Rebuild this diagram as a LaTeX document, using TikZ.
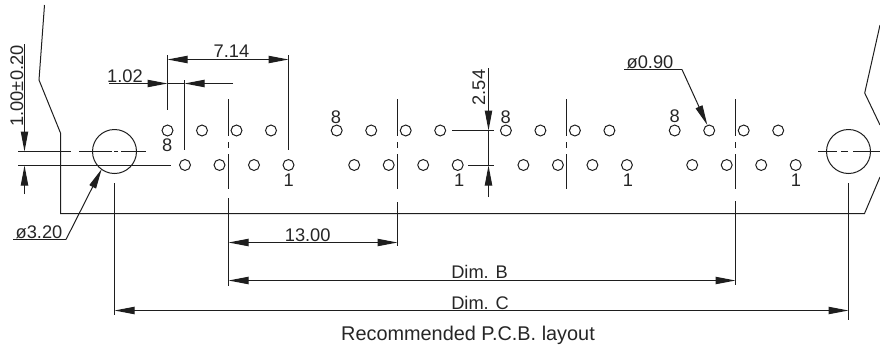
\documentclass[tikz,border=0pt]{standalone}
\usepackage{fontspec}
\setmainfont{Liberation Sans}
\usetikzlibrary{arrows.meta}
\definecolor{ink}{HTML}{1E1E1E}
\definecolor{txt}{HTML}{262626}
\tikzset{
  ln/.style={draw=ink,line width=0.75pt},
  dimtip/.style={-{Triangle[length=15pt,width=5.5pt,color=ink]}},
  lab/.style={inner sep=0pt,anchor=base,text=txt,font=\fontsize{13.7}{16}\selectfont},
  rlab/.style={lab,rotate=90},
  pin/.style={circle,draw=ink,line width=0.75pt,minimum size=8.2pt,inner sep=0pt},
  mhole/.style={circle,draw=ink,line width=0.75pt,minimum size=33pt,inner sep=0pt}
}
\begin{document}
\begin{tikzpicture}[x=0.75pt,y=-0.75pt]
\useasboundingbox (0,0) rectangle (880,347);
\clip (0,0) rectangle (880,347);
% board outline
\draw[ln] (44.5,5) -- (39,80) -- (60.5,133) -- (60.5,213.5) -- (864.5,213.5) -- (880,177);
\draw[ln] (880,25) -- (864.7,93) -- (880,125);
% mounting holes
\node[mhole] (holeL) at (114.5,151.5) {};
\node[mhole] (holeR) at (848.5,151.5) {};
\draw[ln] (18,151.5) -- (71,151.5) (79,151.5) -- (112,151.5) (114,151.5) -- (118,151.5) (121,151.5) -- (146,151.5);
\draw[ln] (818,151.5) -- (837,151.5) (841,151.5) -- (848,151.5) (853,151.5) -- (880,151.5);
\draw[ln] (18,165.5) -- (171,165.5);
% pins
\foreach \g/\o in {a/0,b/169.2,c/338.4,d/507.2}{
  \foreach \i/\x in {1/167.5,2/202,3/236.5,4/271}{
    \node[pin] (t\g\i) at (\x+\o,130.5) {};
  }
  \foreach \i/\x in {1/185,2/219.5,3/254,4/288.5}{
    \node[pin] (b\g\i) at (\x+\o,165) {};
  }
}
% group centre lines
\foreach \x in {228.5,397.5,566.5,735.5}{
  \draw[ln] (\x,99) -- (\x,135.5) (\x,142) -- (\x,148) (\x,154) -- (\x,189);
}
\draw[ln] (228.5,198) -- (228.5,286);
\draw[ln] (397.5,202) -- (397.5,246);
\draw[ln] (735.5,201) -- (735.5,285);
\draw[ln] (114.5,183) -- (114.5,315);
\draw[ln] (848.5,183) -- (848.5,320);
% 7.14
\draw[ln] (167.5,55) -- (167.5,110);
\draw[ln] (288.5,55) -- (288.5,150);
\draw[ln,dimtip] (228,59.5) -- (167.5,59.5);
\draw[ln,dimtip] (228,59.5) -- (288.5,59.5);
\node[lab] (t714) at (231.5,57) {7.14};
% 1.02
\draw[ln] (184.5,80) -- (184.5,150);
\draw[ln,dimtip] (109,83.5) -- (167.5,83.5);
\draw[ln,dimtip] (233,83.5) -- (184.5,83.5);
\draw[ln] (167.5,83.5) -- (184.5,83.5);
\node[lab] (t102) at (125,82) {1.02};
% 1.00+-0.20
\draw[ln,dimtip] (24.5,44) -- (24.5,151.5);
\draw[ln,dimtip] (24.5,194) -- (24.5,165.5);
\node[rlab] (t100) at (23,86) {1.00±0.20};
% 2.54
\draw[ln,dimtip] (488.5,68) -- (488.5,130.5);
\draw[ln,dimtip] (488.5,197) -- (488.5,165.5);
\draw[ln] (488.5,130.5) -- (488.5,165.5);
\draw[ln] (452,130.5) -- (494,130.5);
\draw[ln] (468,165.5) -- (494,165.5);
\node[rlab] (t254) at (485,87.5) {2.54};
% pin labels
\node[lab] (n8a) at (167.3,151.5) {8};
\node[lab] (n8b) at (336,123.2) {8};
\node[lab] (n8c) at (505.7,123.2) {8};
\node[lab] (n8d) at (674.7,122.5) {8};
\node[lab] (n1a) at (288.7,186.5) {1};
\node[lab] (n1b) at (459.3,186.5) {1};
\node[lab] (n1c) at (628,186.5) {1};
\node[lab] (n1d) at (796,186.5) {1};
% diameter 0.90
\draw[ln] (624,69.5) -- (682,69.5);
\draw[ln,dimtip] (682,69.5) -- (707.3,125);
\node[lab] (t090) at (650,68) {ø0.90};
% diameter 3.20
\draw[ln] (13,239.5) -- (66,239.5);
\draw[ln,dimtip] (66,239.5) -- (101.7,169);
\node[lab] (t320) at (39,238) {ø3.20};
% 13.00
\draw[ln,dimtip] (312,242.5) -- (228.5,242.5);
\draw[ln,dimtip] (312,242.5) -- (397.5,242.5);
\node[lab] (t13) at (307.7,241) {13.00};
% Dim. B
\draw[ln,dimtip] (480,280.5) -- (228.5,280.5);
\draw[ln,dimtip] (480,280.5) -- (735.5,280.5);
\node[lab] (tB) at (479.5,278) {Dim. B};
% Dim. C
\draw[ln,dimtip] (480,310.5) -- (114.5,310.5);
\draw[ln,dimtip] (480,310.5) -- (848.5,310.5);
\node[lab] (tC) at (480,309) {Dim. C};
% caption
\node[lab,font=\fontsize{14.9}{18}\selectfont] (cap) at (468,340) {Recommended P.C.B. layout};
\end{tikzpicture}
\end{document}
